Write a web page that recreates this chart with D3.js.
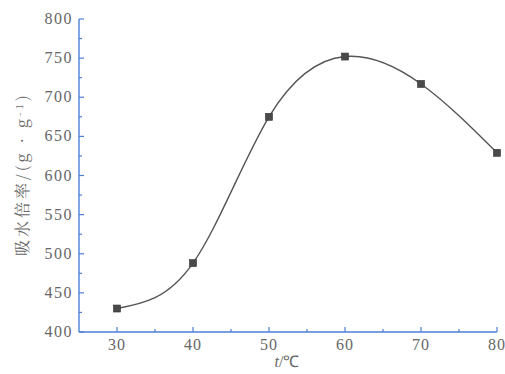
<!DOCTYPE html>
<html>
<head>
<meta charset="utf-8">
<script src="https://cdn.jsdelivr.net/npm/d3@7"></script>
<style>
  html, body { margin: 0; padding: 0; background: #fff; }
  svg { display: block; }
</style>
</head>
<body>
<svg id="chart" width="505" height="374"></svg>
<script>
// Water absorption ratio vs. temperature
const temperatures = [30, 40, 50, 60, 70, 80];
const absorption = [430, 488, 675, 752, 717, 629];
const xTicks = [30, 40, 50, 60, 70, 80];
const yTicks = [400, 450, 500, 550, 600, 650, 700, 750, 800];

const W = 505, H = 374;
const margin = { left: 79, right: 8, top: 19, bottom: 42 };
const serif = '"Liberation Serif", "Times New Roman", serif';
const cjk = '"Noto Serif CJK SC", "Liberation Serif", serif';

const svg = d3.select("#chart");
const axisColor = "#4d7fd8";
const textColor = "#666";
const lineColor = "#555";

const x = d3.scaleLinear().domain([25, 80]).range([margin.left, W - margin.right]);
const y = d3.scaleLinear().domain([400, 800]).range([H - margin.bottom, margin.top]);

// x axis with inward ticks (major every 10, minor every 5)
const gx = svg.append("g").attr("transform", `translate(0,${y(400)})`);
gx.append("line").attr("x1", x(25)).attr("x2", x(80)).attr("stroke", axisColor).attr("stroke-width", 1.4);
gx.selectAll("line.minor").data(d3.range(35, 81, 10)).join("line")
  .attr("x1", d => x(d)).attr("x2", d => x(d)).attr("y1", 0).attr("y2", -3)
  .attr("stroke", axisColor).attr("stroke-width", 1.2);
gx.selectAll("line.major").data(xTicks).join("line")
  .attr("x1", d => x(d)).attr("x2", d => x(d)).attr("y1", 0).attr("y2", -5)
  .attr("stroke", axisColor).attr("stroke-width", 1.2);
gx.selectAll("text").data(xTicks).join("text")
  .style("font-family", serif)
  .style("letter-spacing", "1px")
  .attr("x", d => x(d)).attr("y", 18)
  .attr("text-anchor", "middle")
  .attr("font-size", 16)
  .attr("fill", textColor).text(d => d);

// y axis with inward ticks (major every 50, minor every 25)
const gy = svg.append("g").attr("transform", `translate(${x(25)},0)`);
gy.append("line").attr("y1", y(400)).attr("y2", y(800)).attr("stroke", axisColor).attr("stroke-width", 1.4);
gy.selectAll("line.minor").data(d3.range(425, 800, 50)).join("line")
  .attr("y1", d => y(d)).attr("y2", d => y(d)).attr("x1", 0).attr("x2", 3)
  .attr("stroke", axisColor).attr("stroke-width", 1.2);
gy.selectAll("line.major").data(yTicks).join("line")
  .attr("y1", d => y(d)).attr("y2", d => y(d)).attr("x1", 0).attr("x2", 5)
  .attr("stroke", axisColor).attr("stroke-width", 1.2);
gy.selectAll("text").data(yTicks).join("text")
  .style("font-family", serif)
  .style("letter-spacing", "1.5px")
  .attr("x", -6).attr("y", d => y(d) + 5)
  .attr("text-anchor", "end")
  .attr("font-size", 16)
  .attr("fill", textColor).text(d => d);

// smooth curve through the measured points
const pts = temperatures.map((t, i) => [t, absorption[i]]);
const line = d3.line().x(d => x(d[0])).y(d => y(d[1])).curve(d3.curveNatural);
svg.append("path").datum(pts).attr("d", line)
  .attr("fill", "none").attr("stroke", lineColor).attr("stroke-width", 1.4);

svg.selectAll("rect.pt").data(pts).join("rect")
  .attr("x", d => x(d[0]) - 3.5).attr("y", d => y(d[1]) - 3.5)
  .attr("width", 7).attr("height", 7)
  .attr("fill", "#4a4a4a").attr("stroke", "#333").attr("stroke-width", 0.6);

// axis titles
const xt = svg.append("text")
  .style("font-family", serif)
  .attr("x", 287).attr("y", 367).attr("text-anchor", "middle")
  .attr("font-size", 16).attr("fill", textColor);
xt.append("tspan").attr("font-style", "italic").text("t");
xt.append("tspan").text("/℃");

const yt = svg.append("text")
  .style("font-family", cjk)
  .style("letter-spacing", "3px")
  .attr("transform", `translate(28,174) rotate(-90)`)
  .attr("text-anchor", "middle")
  .attr("font-size", 16).attr("fill", textColor);
yt.append("tspan").text("吸水倍率/(g · g");
yt.append("tspan").attr("dy", -5).attr("font-size", 10).text("-1");
yt.append("tspan").attr("dy", 5).text(")");
</script>
</body>
</html>
